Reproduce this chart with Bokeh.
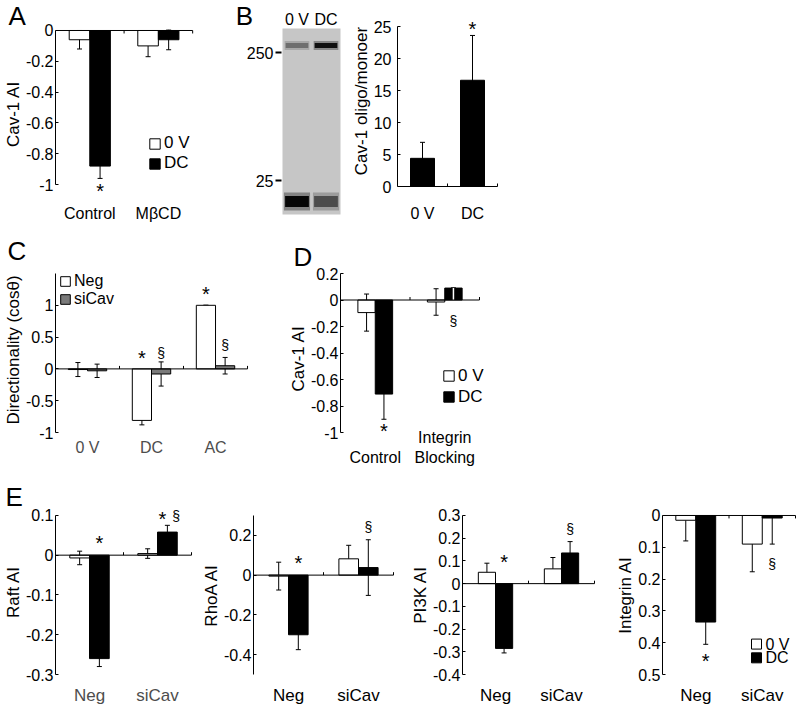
from bokeh.plotting import figure
from bokeh.models import (Range1d, FixedTicker, Label, Whisker, Title, Spacer,
                          TeeHead, Legend, LegendItem, ColumnDataSource)
from bokeh.layouts import row, column
from bokeh.embed import file_html
from bokeh.resources import INLINE
from bokeh.core.properties import value

FONT = "Liberation Sans"

# ---------------- data ----------------
# Panel A
a_groups = ["Control", "MβCD"]
a_0v = [-0.06, -0.10]
a_0v_err = [0.06, 0.07]
a_dc = [-0.88, -0.06]
a_dc_err = [0.08, 0.065]
a_ticks = [-1, -0.8, -0.6, -0.4, -0.2, 0]
a_tick_labels = ["-1", "-0.8", "-0.6", "-0.4", "-0.2", "0"]

# Panel B gel
gel_lanes = ["0 V", "DC"]
gel_marker_labels = ["250", "25"]
gel_marker_pos = [162, 34]
gel_oligomer_pos = [169, 169]
gel_monomer_pos = [13, 13]
gel_oligomer_density = [0.45, 0.92]
gel_monomer_density = [0.97, 0.62]

# Panel B bars
b_groups = ["0 V", "DC"]
b_vals = [4.4, 16.6]
b_err = [2.5, 7.0]
b_ticks = [0, 5, 10, 15, 20, 25]
b_tick_labels = ["0", "5", "10", "15", "20", "25"]

# Panel C
c_groups = ["0 V", "DC", "AC"]
c_neg = [-0.01, -0.81, 1.0]
c_neg_err = [0.11, 0.07, 0.0]
c_sicav = [-0.03, -0.08, 0.05]
c_sicav_err = [0.105, 0.19, 0.13]
c_ticks = [-1, -0.5, 0, 0.5, 1]
c_tick_labels = ["-1", "-0.5", "0", "0.5", "1"]

# Panel D
d_groups = ["\nControl", "Integrin\nBlocking"]
d_0v = [-0.095, -0.015]
d_0v_err = [0.14, 0.10]
d_dc = [-0.71, 0.09]
d_dc_err = [0.19, 0.0]
d_ticks = [-1, -0.8, -0.6, -0.4, -0.2, 0, 0.2]
d_tick_labels = ["-1", "-0.8", "-0.6", "-0.4", "-0.2", "0", "0.2"]

# Panel E
e_groups = ["Neg", "siCav"]
e_series_names = ["0 V", "DC"]
raft_0v = [-0.007, 0.004]
raft_0v_err = [0.017, 0.012]
raft_dc = [-0.26, 0.058]
raft_dc_err = [0.02, 0.017]
raft_ticks = [-0.3, -0.2, -0.1, 0, 0.1]
raft_tick_labels = ["-0.3", "-0.2", "-0.1", "0", "0.1"]

rhoa_0v = [-0.005, 0.082]
rhoa_0v_err = [0.07, 0.068]
rhoa_dc = [-0.30, 0.038]
rhoa_dc_err = [0.075, 0.14]
rhoa_ticks = [-0.4, -0.2, 0, 0.2]
rhoa_tick_labels = ["-0.4", "-0.2", "0", "0.2"]

pi3k_0v = [0.05, 0.065]
pi3k_0v_err = [0.04, 0.05]
pi3k_dc = [-0.285, 0.135]
pi3k_dc_err = [0.02, 0.05]
pi3k_ticks = [-0.4, -0.3, -0.2, -0.1, 0, 0.1, 0.2, 0.3]
pi3k_tick_labels = ["-0.4", "-0.3", "-0.2", "-0.1", "0", "0.1", "0.2", "0.3"]

integ_0v = [0.015, 0.09]
integ_0v_err = [0.065, 0.087]
integ_dc = [0.335, 0.008]
integ_dc_err = [0.07, 0.082]
integ_ticks = [0, 0.1, 0.2, 0.3, 0.4, 0.5]
integ_tick_labels = ["0", "0.1", "0.2", "0.3", "0.4", "0.5"]


# ---------------- helpers ----------------
class Panel:
    """Bar panel; (dl, dt, dw, dh) is the data area inside the figure."""

    def __init__(self, fig_w, fig_h, dl, dt, dw, dh, n, ybot_val, ytop_val,
                 ext_top=1, ext_bot=1, ext_right=2):
        self.n = n
        self.ppx = n / dw
        self.ppy = (ytop_val - ybot_val) / dh
        self.x0 = 0.0
        self.x1 = n + ext_right * self.ppx
        self.ytop_val = ytop_val
        ystart = ybot_val - ext_bot * self.ppy
        yend = ytop_val + ext_top * self.ppy
        fw = dw + ext_right
        fh = dh + ext_top + ext_bot
        ft = dt - ext_top
        self.bounds = (min(ybot_val, ytop_val), max(ybot_val, ytop_val))
        p = figure(width=fig_w, height=fig_h,
                   x_range=Range1d(self.x0, self.x1),
                   y_range=Range1d(ystart, yend),
                   output_backend="svg", toolbar_location=None,
                   min_border_left=dl, min_border_top=ft,
                   min_border_right=fig_w - dl - fw,
                   min_border_bottom=fig_h - ft - fh)
        p.grid.visible = False
        p.outline_line_color = None
        p.background_fill_color = "white"
        p.border_fill_color = "white"
        self.p = p

    def ux(self, px):
        return px * self.ppx

    def uy(self, px):  # screen-up pixels -> data
        return px * self.ppy

    def style_y(self, ticks, labels, title, tick_px=16, title_px=17,
                standoff=2, title_standoff=0):
        ax = self.p.yaxis[0]
        ax.ticker = FixedTicker(ticks=ticks)
        ax.major_label_overrides = {t: l for t, l in zip(ticks, labels)}
        ax.bounds = self.bounds
        ax.axis_line_color = "black"
        ax.axis_line_width = 1
        ax.major_tick_in = 3
        ax.major_tick_out = 0
        ax.major_tick_line_color = "black"
        ax.minor_tick_line_color = None
        ax.major_label_text_font = FONT
        ax.major_label_text_font_size = f"{tick_px}px"
        ax.major_label_text_color = "black"
        ax.major_label_standoff = standoff
        ax.axis_label = title
        ax.axis_label_text_font = FONT
        ax.axis_label_text_font_size = f"{title_px}px"
        ax.axis_label_text_font_style = "normal"
        ax.axis_label_text_color = "black"
        ax.axis_label_standoff = title_standoff

    def style_x(self, cats, standoff, color="black", px=16):
        ax = self.p.xaxis[0]
        centers = [i + 0.5 for i in range(len(cats))]
        ax.ticker = FixedTicker(ticks=centers)
        ax.major_label_overrides = {c: l for c, l in zip(centers, cats)}
        ax.axis_line_color = None
        ax.major_tick_line_color = None
        ax.major_tick_in = 0
        ax.major_tick_out = 0
        ax.minor_tick_line_color = None
        ax.major_label_text_font = FONT
        ax.major_label_text_font_size = f"{px}px"
        ax.major_label_text_color = color
        ax.major_label_standoff = standoff

    def zero_line(self, tick_dir=1):
        self.p.segment(x0=[0], y0=[0], x1=[self.n], y1=[0],
                       line_color="black", line_width=1)
        b = [float(i) for i in range(1, self.n + 1)]
        self.p.segment(x0=b, y0=[0] * len(b), x1=b,
                       y1=[self.uy(3 * tick_dir)] * len(b),
                       line_color="black", line_width=1)

    def bars(self, series, bar_w, one_sided=False):
        k = len(series)
        out = []
        for j, (vals, errs, fill) in enumerate(series):
            xs = [i + 0.5 + (j - (k - 1) / 2) * bar_w for i in range(len(vals))]
            r = self.p.vbar(x=xs, width=bar_w, bottom=0, top=vals,
                            fill_color=fill, line_color="black", line_width=1)
            out.append((r, xs))
        for j, (vals, errs, fill) in enumerate(series):
            xs = out[j][1]
            if one_sided:
                lo = list(vals)
                hi = [v + e for v, e in zip(vals, errs)]
            else:
                lo = [v - e for v, e in zip(vals, errs)]
                hi = [v + e for v, e in zip(vals, errs)]
            src = ColumnDataSource(dict(base=xs, lower=lo, upper=hi))
            w = Whisker(source=src, base="base", lower="lower", upper="upper",
                        dimension="height", line_color="black", line_width=1,
                        upper_head=TeeHead(size=5, line_color="black", line_width=1),
                        lower_head=None if one_sided else
                        TeeHead(size=5, line_color="black", line_width=1))
            self.p.add_layout(w)
        return out

    def marks(self, specs, series, bar_out):
        for (g, s, sym, where, off, dx) in specs:
            vals, errs, _ = series[s]
            x = bar_out[s][1][g] + self.ux(dx)
            v, e = vals[g], errs[g]
            if where == "tip":
                sgn = 1 if v >= 0 else -1
                y = v + sgn * e + sgn * abs(self.uy(off))
            elif where == "above":
                y = v + e + self.uy(off)
            elif where == "up":
                y = self.uy(off)
            else:
                y = -self.uy(off)
            size = 20 if sym == "*" else 14
            shift = 0.12 * size if sym == "*" else 0.0
            self.p.add_layout(Label(x=x, y=y - self.uy(shift), text=sym,
                                    text_align="center", text_baseline="middle",
                                    text_font=FONT, text_font_size=f"{size}px",
                                    text_color="black"))

    def letter(self, text, offset, standoff):
        self.p.add_layout(Title(text=text, align="left", offset=offset,
                                standoff=standoff, text_font=FONT,
                                text_font_size="26px", text_font_style="normal",
                                text_color="black"), "above")

    def legend(self, items, x, y, font=17, label_h=20, glyph=13):
        leg = Legend(items=[LegendItem(label=l, renderers=[r]) for r, l in items],
                     location=(x, y), orientation="vertical",
                     background_fill_alpha=0, border_line_alpha=0,
                     padding=0, margin=0, spacing=0, label_standoff=3,
                     glyph_width=glyph, glyph_height=glyph, label_height=label_h,
                     label_text_font=FONT, label_text_font_size=f"{font}px",
                     label_text_color="black")
        self.p.add_layout(leg)

    def compact_legend(self, names, fills, px_x, px_y, row_px, font=16, box=10):
        # compact key: px offsets from the data-area top-left corner
        xs = [self.ux(px_x)] * len(names)
        ys = [self.ytop_val - self.uy(px_y + i * row_px) for i in range(len(names))]
        self.p.scatter(x=xs, y=ys, marker="square", size=box,
                       fill_color=fills, line_color="black", line_width=1)
        self.p.text(x=[v + self.ux(box / 2 + 4) for v in xs], y=ys, text=names,
                    text_align="left", text_baseline="middle",
                    text_font=value(FONT), text_font_size=f"{font}px",
                    text_color="black")


WHITE, BLACK, GRAY = "white", "black", "#7a7a7a"

# ---------------- Row 1 (y 0..232) ----------------
A = Panel(212, 232, 53, 29, 139, 155, 2, -1.0, 0.0,
          ext_top=1, ext_bot=14, ext_right=12)
A.style_y(a_ticks, a_tick_labels, "Cav-1 AI")
A.style_x(a_groups, 6)
a_series = [(a_0v, a_0v_err, WHITE), (a_dc, a_dc_err, BLACK)]
a_out = A.bars(a_series, 0.30)
A.zero_line(-1)
A.marks([(0, 1, "*", "tip", 10, 0)], a_series, a_out)
A.legend([(a_out[0][0], "0 V"), (a_out[1][0], "DC")], 93, 25)
A.letter("A", -47, -3)

# gel (pictorial, drawn in its own frame: x in lane units, y in migration px)
gel_left_px, gel_w_px = 70, 134
ppl = 29.0  # px per lane
gel = figure(width=gel_w_px, height=232,
             x_range=Range1d(-gel_left_px / ppl, (gel_w_px - gel_left_px) / ppl),
             y_range=Range1d(-18, 214),
             output_backend="svg", toolbar_location=None, min_border=0,
             x_axis_location=None, y_axis_location=None)
gel.grid.visible = False
gel.outline_line_color = None
gel.background_fill_color = "white"
gel.border_fill_color = "white"
lane_x = [i + 0.5 for i in range(len(gel_lanes))]


def density_color(d):
    g = int(round(200 * (1 - d)))
    return "#%02x%02x%02x" % (g, g, g)


gel.quad(left=[0], right=[len(gel_lanes)], bottom=[0], top=[186],
         fill_color="#c6c6c6", line_color=None)
gel.rect(x=lane_x, y=gel_oligomer_pos, width=0.85, height=9,
         fill_color=[density_color(d) for d in gel_oligomer_density],
         fill_alpha=0.35, line_color=None)
gel.rect(x=lane_x, y=gel_oligomer_pos, width=0.78, height=5,
         fill_color=[density_color(d) for d in gel_oligomer_density],
         line_color=None)
gel.rect(x=lane_x, y=gel_monomer_pos, width=0.9, height=18,
         fill_color=[density_color(d) for d in gel_monomer_density],
         fill_alpha=0.35, line_color=None)
gel.rect(x=lane_x, y=gel_monomer_pos, width=0.82, height=11,
         fill_color=[density_color(d) for d in gel_monomer_density],
         line_color=None)
gel.segment(x0=[-7 / ppl] * 2, y0=gel_marker_pos, x1=[-1 / ppl] * 2,
            y1=gel_marker_pos, line_color="black", line_width=2)
gel.text(x=[-9 / ppl] * 2, y=gel_marker_pos, text=gel_marker_labels,
         text_align="right", text_baseline="middle", text_font=value(FONT),
         text_font_size="16px", text_color="black")
gel.text(x=lane_x, y=[195] * 2, text=gel_lanes, text_align="center",
         text_baseline="middle", text_font=value(FONT), text_font_size="16px",
         text_color="black")
gel.text(x=[-38 / ppl], y=[199], text=["B"], text_align="center",
         text_baseline="middle", text_font=value(FONT), text_font_size="26px",
         text_color="black")

B = Panel(214, 232, 51, 26, 100, 160, 2, 0.0, 25.0,
          ext_top=12, ext_bot=1, ext_right=2)
B.style_y(b_ticks, b_tick_labels, "Cav-1 oligo/monoer", standoff=6)
B.style_x(b_groups, 17)
b_series = [(b_vals, b_err, BLACK)]
b_out = B.bars(b_series, 0.48)
B.zero_line(1)
B.marks([(1, 0, "*", "tip", 9, 0)], b_series, b_out)

# ---------------- Row 2 (y 232..470) ----------------
C = Panel(265, 238, 53, 41, 194, 159, 3, -1.0, 1.5,
          ext_top=8, ext_bot=2, ext_right=2)
C.style_y(c_ticks, c_tick_labels, "Directionality (cosθ)")
C.style_x(c_groups, 4, color="#4d4d4d")
c_series = [(c_neg, c_neg_err, WHITE), (c_sicav, c_sicav_err, GRAY)]
c_out = C.bars(c_series, 0.30)
C.zero_line(1)
C.marks([(1, 0, "*", "up", 13, 0), (1, 1, "§", "above", 9, 0),
         (2, 0, "*", "tip", 14, 0), (2, 1, "§", "tip", 12, 0)], c_series, c_out)
C.legend([(c_out[0][0], "Neg"), (c_out[1][0], "siCav")], 4, 126,
         font=16, label_h=16, glyph=12)
C.letter("C", -48, 0)

D = Panel(265, 238, 75, 41, 139, 159, 2, -1.0, 0.2,
          ext_top=1, ext_bot=12, ext_right=15)
D.style_y(d_ticks, d_tick_labels, "Cav-1 AI")
D.style_x(d_groups, -16)
d_series = [(d_0v, d_0v_err, WHITE), (d_dc, d_dc_err, BLACK)]
d_out = D.bars(d_series, 0.25)
D.p.segment(x0=[d_out[1][1][1]], y0=[0], x1=[d_out[1][1][1]], y1=[d_dc[1]],
            line_color="white", line_width=1.5)
D.zero_line(1)
D.marks([(0, 1, "*", "tip", 9, 0), (1, 1, "§", "down", 21, 0)], d_series, d_out)
D.legend([(d_out[0][0], "0 V"), (d_out[1][0], "DC")], 102, 37, label_h=21)
D.letter("D", -47, 2)

# ---------------- Row 3 (y 470..707) ----------------
R = Panel(197, 232, 53, 40, 138, 162, 2, -0.3, 0.1,
          ext_top=7, ext_bot=1, ext_right=2)
R.style_y(raft_ticks, raft_tick_labels, "Raft AI")
R.style_x(e_groups, 10, color="#4d4d4d", px=17)
r_series = [(raft_0v, raft_0v_err, WHITE), (raft_dc, raft_dc_err, BLACK)]
r_out = R.bars(r_series, 0.29)
R.zero_line(1)
R.marks([(0, 1, "*", "up", 15, 0), (1, 1, "*", "tip", 9, -5),
         (1, 1, "§", "tip", 9, 9)], r_series, r_out)
R.letter("E", -50, -7)

H = Panel(203, 237, 56, 45, 140, 162, 2, -0.5, 0.3)
H.style_y(rhoa_ticks, rhoa_tick_labels, "RhoA AI")
H.style_x(e_groups, 10, px=17)
h_series = [(rhoa_0v, rhoa_0v_err, WHITE), (rhoa_dc, rhoa_dc_err, BLACK)]
h_out = H.bars(h_series, 0.28)
H.zero_line(1)
H.marks([(0, 1, "*", "up", 15, 0), (1, 1, "§", "tip", 13, 0)], h_series, h_out)

K = Panel(200, 237, 62, 45, 132, 162, 2, -0.4, 0.3)
K.style_y(pi3k_ticks, pi3k_tick_labels, "PI3K AI")
K.style_x(e_groups, 10, px=17)
k_series = [(pi3k_0v, pi3k_0v_err, WHITE), (pi3k_dc, pi3k_dc_err, BLACK)]
k_out = K.bars(k_series, 0.26)
K.zero_line(1)
K.marks([(0, 1, "*", "up", 24, 0), (1, 1, "§", "tip", 13, 0)], k_series, k_out)

G = Panel(200, 237, 62, 45, 133, 162, 2, 0.5, 0.0)
G.style_y(integ_ticks, integ_tick_labels, "Integrin AI")
G.style_x(e_groups, 10, px=17)
g_series = [(integ_0v, integ_0v_err, WHITE), (integ_dc, integ_dc_err, BLACK)]
g_out = G.bars(g_series, 0.30, one_sided=True)
G.zero_line(-1)
G.marks([(0, 1, "*", "tip", 15, 0), (1, 1, "§", "tip", 20, 0)], g_series, g_out)
G.compact_legend(e_series_names, [WHITE, BLACK], 94, 131, 14)


def boxed(*items):
    # each item in its own column so the row does not align plot frames
    return row(*[it if not hasattr(it, "renderers") else column(it)
                 for it in items])


raft_box = column(Spacer(width=197, height=5), R.p)

layout = column(boxed(A.p, gel, B.p), boxed(C.p, D.p),
                boxed(raft_box, H.p, K.p, G.p))

open("out.html", "w").write(file_html(layout, INLINE))
